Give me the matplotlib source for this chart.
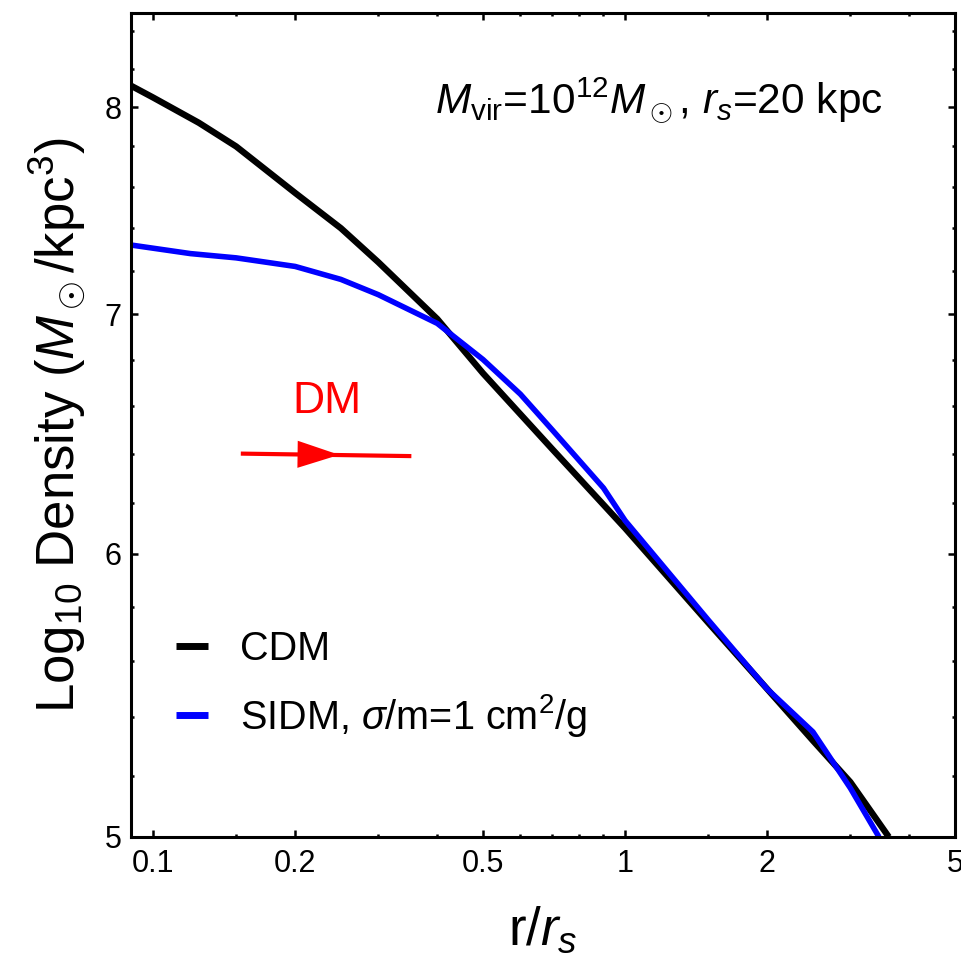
import matplotlib
matplotlib.use("Agg")
import matplotlib.pyplot as plt
import numpy as np
from matplotlib import rc

rc('font', family='Liberation Sans')
rc('mathtext', fontset='custom', rm='Liberation Sans', it='Liberation Sans:italic',
   bf='Liberation Sans:bold')

# values (r / r_s, density)
r_cdm = [0.09, 0.1, 0.125, 0.15, 0.2, 0.25, 0.3, 0.4, 0.5, 0.7, 1.0, 1.5, 2.0, 2.5, 3.0, 3.62]
rho_cdm = [8.11, 8.05, 7.92, 7.80, 7.57, 7.40, 7.24, 6.98, 6.74, 6.42, 6.10, 5.74, 5.50, 5.32, 5.18, 5.0]

r_sidm = [0.09, 0.12, 0.15, 0.2, 0.25, 0.3, 0.4, 0.5, 0.6, 0.7, 0.9, 1.0, 1.5, 2.0, 2.5, 3.0, 3.45]
rho_sidm = [7.32, 7.28, 7.26, 7.22, 7.16, 7.09, 6.96, 6.80, 6.65, 6.50, 6.26, 6.13, 5.75, 5.50, 5.35, 5.16, 5.0]

arrow_r = [0.155, 0.349]
arrow_rho = [6.40, 6.39]
arrow_tip = (0.248, 6.395)

x_major = [0.1, 0.2, 0.5, 1, 2, 5]
x_major_labels = ['0.1', '0.2', '0.5', '1', '2', '5']
x_minor = [0.15, 0.3, 0.4, 0.6, 0.7, 0.8, 0.9, 1.5, 3, 4]
y_major = [5, 6, 7, 8]
y_minor = [5.2, 5.4, 5.6, 5.8, 6.2, 6.4, 6.6, 6.8, 7.2, 7.4, 7.6, 7.8, 8.2, 8.4]


def graph():
    fig = plt.figure(figsize=(9.61, 9.56), dpi=100)
    ax = fig.add_axes([0.1363, 0.1245, 0.8575, 0.8619])
    for axis in ['top', 'bottom', 'left', 'right']:
        ax.spines[axis].set_linewidth(2.2)

    ax.plot(r_cdm, rho_cdm, color='black', linewidth=4.6, label='CDM',
            solid_capstyle='butt')
    ax.plot(r_sidm, rho_sidm, color='blue', linewidth=4.0,
            label=r'SIDM, $\sigma$/m=1 cm$^2$/g', solid_capstyle='butt')

    # red arrow
    ax.plot(arrow_r, arrow_rho, color='red', linewidth=3.0)
    ax.annotate('', xy=arrow_tip, xytext=(0.19, 6.398),
                arrowprops=dict(arrowstyle='-|>,head_length=0.4,head_width=0.13',
                                color='red', lw=0, mutation_scale=75,
                                shrinkA=0, shrinkB=0))
    ax.text(0.233, 6.62, 'DM', color='red', fontsize=32, ha='center', va='center')

    ax.text(0.9126, 0.894, r'$M_{\rm vir}$=10$^{12}$$M_\odot$, $r_s$=20 kpc',
            transform=ax.transAxes, ha='right', va='center', fontsize=30.5)

    ax.set_xscale('log')
    ax.set_yscale('log')
    ax.set_xlim(0.0898, 5)
    ax.set_ylim(5, 8.5)
    ax.set_xticks(x_major)
    ax.set_xticklabels(x_major_labels)
    ax.set_xticks(x_minor, minor=True)
    ax.set_xticklabels([], minor=True)
    ax.set_yticks(y_major)
    ax.set_yticklabels([str(v) for v in y_major])
    ax.set_yticks(y_minor, minor=True)
    ax.set_yticklabels([], minor=True)

    ax.tick_params(which='both', direction='in', top=True, right=True, labelsize=22)
    ax.tick_params(which='major', length=5, width=1.8)
    ax.tick_params(which='minor', length=2.5, width=1.8)
    ax.tick_params(axis='x', which='major', pad=9)
    ax.tick_params(axis='y', which='major', pad=7)

    ax.set_xlabel(r'r/$r_s$', fontsize=38, labelpad=18)
    ax.set_ylabel(r'Log$_{10}$ Density ($M_\odot$/kpc$^3$)', fontsize=38, labelpad=12)

    leg = ax.legend(loc='upper left', bbox_to_anchor=(0.012, 0.294), frameon=False,
                    fontsize=28.5, handlelength=0.8, handletextpad=0.8,
                    labelspacing=0.6)
    for line in leg.get_lines():
        line.set_linewidth(5)

    fig.savefig('out.png', dpi=100)


if __name__ == '__main__':
    graph()
